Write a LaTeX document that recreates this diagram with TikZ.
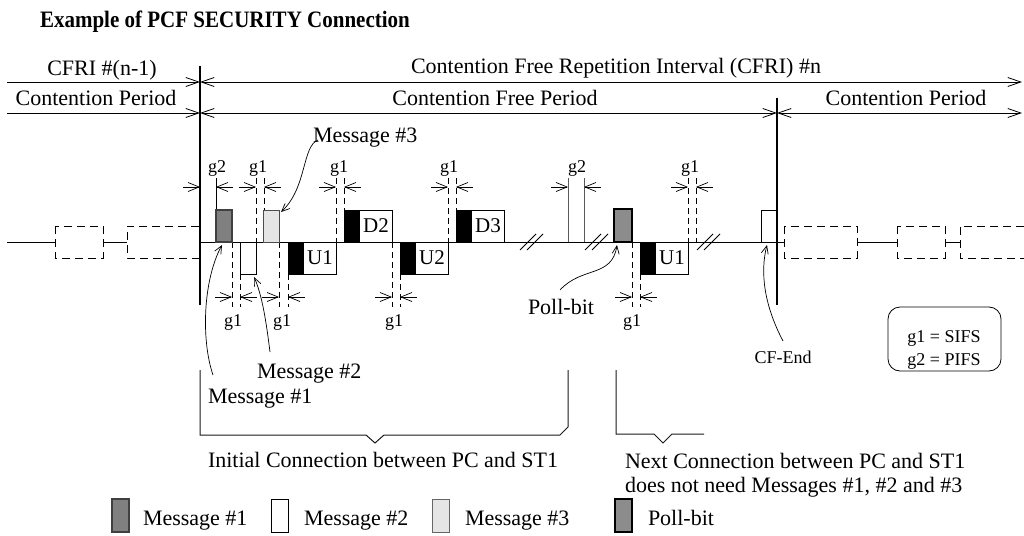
\documentclass[tikz,border=0pt]{standalone}
\usepackage{fontspec}
\setmainfont{Liberation Serif}
\usetikzlibrary{arrows.meta}
\begin{document}
\begin{tikzpicture}[x=1pt,y=-1pt,
  every node/.style={inner sep=0pt,outer sep=0pt},
  lbl/.style={font=\fontsize{22}{26}\selectfont,anchor=base},
  glbl/.style={font=\fontsize{18}{21}\selectfont,anchor=base},
  barb/.tip={Straight Barb[length=13pt,width=9pt]},
  topline/.style={line width=0.8pt},
  dimarr/.style={line width=0.7pt,-{Straight Barb[length=11pt,width=9pt]}},
  ext/.style={line width=0.7pt,dash pattern=on 6pt off 4pt},
  boxdash/.style={line width=0.8pt,dash pattern=on 8pt off 5pt},
  bigline/.style={line width=2.4pt},
  frm/.style={draw,line width=0.8pt,minimum width=48pt,minimum height=32pt,fill=white,
    font=\fontsize{21}{24}\selectfont,
    path picture={\fill[black] (path picture bounding box.north west) rectangle ([xshift=16pt]path picture bounding box.south west);}},
  sbox/.style={draw,line width=0.8pt,minimum width=16pt,minimum height=32pt},
  annarr/.style={line width=0.7pt,-{Straight Barb[length=8pt,width=7pt]}},
  brk/.style={line width=1pt,draw=black!90},
]
\useasboundingbox (0,0) rectangle (1024,535);

% title
\node[font=\bfseries\fontsize{21}{25}\selectfont,anchor=base west,yscale=1.12] (title) at (40,28) {Example of PCF SECURITY Connection};

% period rows
\node[lbl] (cfriprev) at (102,75) {CFRI \#(n-1)};
\node[lbl] (cfrin) at (616,73) {Contention Free Repetition Interval (CFRI) \#n};
\node[lbl] (cpleft) at (96,105) {Contention Period};
\node[lbl] (cfp) at (495,105) {Contention Free Period};
\node[lbl] (cpright) at (906,105) {Contention Period};

\draw[topline,-barb] (7,82) -- (200,82);
\draw[topline,barb-barb] (200,82) -- (1022,82);
\draw[topline,-barb] (7,113) -- (200,113);
\draw[topline,barb-barb] (200,113) -- (777,113);
\draw[topline,barb-barb] (777,113) -- (1022,113);

\draw[bigline] (200,66) -- (200,305);
\draw[bigline] (777,98) -- (777,305);

% time axis
\draw[line width=0.9pt] (7,242) -- (55,242);
\draw[boxdash] (55,226) rectangle (103,258);
\draw[line width=0.9pt] (103,242) -- (127,242);
\draw[boxdash] (199,226) -- (127,226) -- (127,258) -- (199,258);
\draw[line width=0.9pt] (200,242) -- (784,242);
\draw[boxdash] (784,226) rectangle (857,258);
\draw[line width=0.9pt] (857,242) -- (897,242);
\draw[boxdash] (897,226) rectangle (945,258);
\draw[line width=0.9pt] (945,242) -- (960,242);
\draw[boxdash] (1024,226) -- (960,226) -- (960,258) -- (1024,258);

% break marks
\foreach \p in {520,585,697}{
  \draw[line width=0.8pt] (\p,250) -- (\p+16,234);
  \draw[line width=0.8pt] (\p+7,250) -- (\p+23,234);
}

% extension lines (top)
\draw[line width=0.8pt] (216,178) -- (216,210);
\foreach \x/\y in {256/242,264/210,336/242,344/210,448/242,456/210,688/242,696/242}{
  \draw[ext] (\x,178) -- (\x,\y);
}
\draw[line width=0.8pt,black!65] (568,178) -- (568,242);
\draw[line width=0.8pt,black!65] (584,178) -- (584,242);
% extension lines (bottom)
\foreach \x/\y in {232/242,240/274,279/242,288/274,392/242,400/274,632/242,640/274}{
  \draw[ext] (\x,\y) -- (\x,307);
}

% gap markers
\foreach \a/\b in {200/216,256/264,336/344,448/456,568/584,688/696}{
  \draw[dimarr] (\a-17,187) -- (\a,187);
  \draw[dimarr] (\b+17,187) -- (\b,187);
}
\foreach \a/\b in {232/240,279/288,392/400,632/640}{
  \draw[dimarr] (\a-17,297) -- (\a,297);
  \draw[dimarr] (\b+17,297) -- (\b,297);
}
\node[glbl] (ga) at (217,172) {g2};
\node[glbl] (gb) at (258,172) {g1};
\node[glbl] (gc) at (339,172) {g1};
\node[glbl] (gd) at (449,172) {g1};
\node[glbl] (ge) at (577,172) {g2};
\node[glbl] (gf) at (690,172) {g1};
\node[glbl] (gg) at (233,326) {g1};
\node[glbl] (gh) at (282,326) {g1};
\node[glbl] (gi) at (394,326) {g1};
\node[glbl] (gj) at (632,326) {g1};

% frames
\node[sbox,anchor=south west,draw=black!75,line width=1.8pt,fill=black!50] (msgone) at (216,242) {};
\node[sbox,anchor=north west,fill=white] (msgtwo) at (240,242) {};
\node[sbox,anchor=south west,draw=black!70,fill=black!10] (msgthree) at (263,242) {};
\node[frm,anchor=north west] (uone) at (288,242) {\hspace*{16pt}U1};
\node[frm,anchor=south west] (dtwo) at (344,242) {\hspace*{16pt}D2};
\node[frm,anchor=north west] (utwo) at (400,242) {\hspace*{16pt}U2};
\node[frm,anchor=south west] (dthree) at (456,242) {\hspace*{16pt}D3};
\node[sbox,anchor=south west,minimum width=18pt,minimum height=33pt,line width=2.6pt,fill=black!45] (poll) at (614,242) {};
\node[frm,anchor=north west] (uoneb) at (640,242) {\hspace*{16pt}U1};
\node[sbox,anchor=south west,minimum width=15pt,fill=white] (cfend) at (761,242) {};

% annotation labels and arrows
\node[lbl,anchor=base west] (mthreelbl) at (313,142) {Message \#3};
\node[lbl,anchor=base west] (mtwolbl) at (257,378) {Message \#2};
\node[lbl,anchor=base west] (monelbl) at (208,403) {Message \#1};
\node[lbl,anchor=base west] (polllbl) at (528,314) {Poll-bit};
\node[glbl] (cfendlbl) at (783,363) {CF-End};
\coordinate (mthreestart) at (318,140);
\coordinate (mtwostart) at (270,352);
\coordinate (monestart) at (213,375);
\coordinate (pollstart) at (560,290);
\coordinate (cfendstart) at (783,341);
\draw[annarr] (mthreestart) .. controls (302,146) and (307,188) .. ([shift={(2,2)}]msgthree.north east);
\draw[annarr] (mtwostart) .. controls (266,320) and (262,295) .. ([shift={(-2,3)}]msgtwo.south east);
\draw[annarr] (monestart) .. controls (201,340) and (203,280) .. ([shift={(-2,3)}]msgone.south);
\draw[annarr] (pollstart) .. controls (582,266) and (612,278) .. ([shift={(3,3)}]poll.south west);
\draw[annarr] (cfendstart) .. controls (764,305) and (760,272) .. ([shift={(6,3)}]cfend.south west);

% legend box
\node[draw,line width=0.8pt,rounded corners=12pt,minimum width=113pt,minimum height=64pt] (gbox) at (944.5,339) {};
\node[glbl] (gsifs) at (944,342) {g1 = SIFS};
\node[glbl] (gpifs) at (944,365) {g2 = PIFS};

% brackets
\draw[brk] (200,370) -- (200,435) -- (366,435) -- (375,443) -- (384,435) -- (560,435) -- (568,427) -- (568,370);
\draw[brk] (616,370) -- (616,434) -- (654,434) -- (663,443) -- (672,434) -- (704,434);
\node[lbl,anchor=base west] (initlbl) at (208,467) {Initial Connection between PC and ST1};
\node[lbl,anchor=base west] (nextlbl) at (625,468) {Next Connection between PC and ST1};
\node[lbl,anchor=base west] (nextlbltwo) at (625,492) {does not need Messages \#1, \#2 and \#3};

% bottom legend
\node[sbox,anchor=north west,minimum width=17pt,minimum height=33pt,draw=black!75,line width=1.8pt,fill=black!50] (lgone) at (112,499) {};
\node[lbl,anchor=base west] (lgonet) at (143,525) {Message \#1};
\node[sbox,anchor=north west,minimum width=17pt,minimum height=33pt,fill=white] (lgtwo) at (271,499) {};
\node[lbl,anchor=base west] (lgtwot) at (304,525) {Message \#2};
\node[sbox,anchor=north west,minimum width=17pt,minimum height=33pt,draw=black!60,fill=black!10] (lgthree) at (432,499) {};
\node[lbl,anchor=base west] (lgthreet) at (465,525) {Message \#3};
\node[sbox,anchor=north west,minimum width=17pt,minimum height=33pt,line width=2.6pt,fill=black!45] (lgpoll) at (615,499) {};
\node[lbl,anchor=base west] (lgpollt) at (648,525) {Poll-bit};
\end{tikzpicture}
\end{document}
